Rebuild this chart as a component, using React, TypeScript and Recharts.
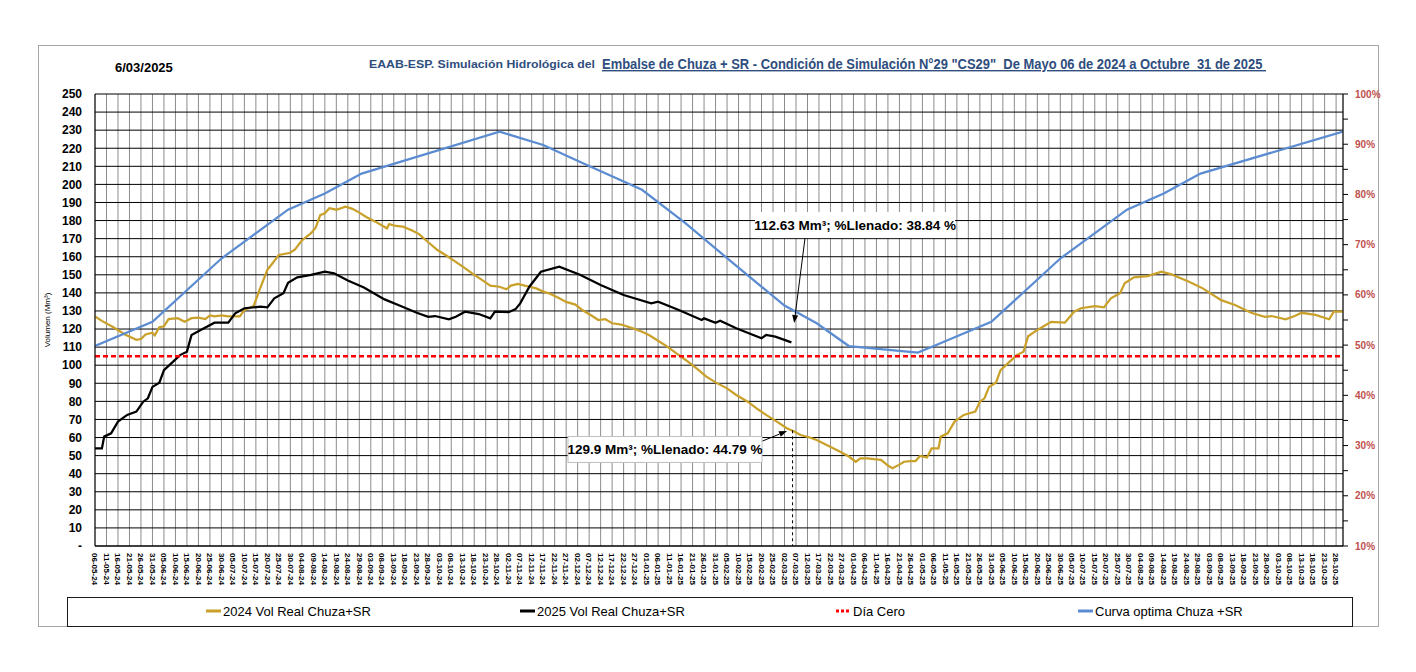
import React from "react";
import {
  CartesianGrid,
  Line,
  LineChart,
  ReferenceDot,
  ReferenceLine,
  XAxis,
  YAxis,
} from "recharts";

// day index counted from 06-05-2024 (axis runs to 31-10-2025)
const START_UTC = Date.UTC(2024, 4, 6);
const LAST_DAY = 543;
const TICK_STEP = 5;

const vol2024Days = [
  0, 3, 8, 13, 18, 20, 22, 25, 26, 28, 30, 32, 36, 39, 42, 45, 48, 50, 52, 55,
  58, 61, 63, 65, 69, 72, 75, 77, 80, 85, 87, 90, 94, 96, 98, 100, 102, 105, 109,
  112, 115, 118, 122, 127, 128, 131, 134, 138, 141, 145, 149, 153, 156, 160, 165,
  168, 172, 176, 179, 181, 184, 187, 189, 192, 195, 198, 202, 205, 209, 212, 216,
  219, 222, 225, 229, 234, 238, 241, 245, 249, 253, 257, 262, 266, 270, 275, 279,
  284, 288, 292, 297, 301, 304, 307, 311, 314, 319, 324, 328, 331, 333, 336, 339,
  342, 345, 347, 350, 352, 355, 357, 359, 362, 364, 367, 368, 371, 374, 378, 383,
  385, 387, 389, 392, 394, 398, 401, 404, 406, 410, 416, 422, 426, 429, 435, 439,
  442, 446, 448, 452, 458, 464, 468, 476, 482, 490, 496, 503, 509, 512, 518, 522,
  525, 531, 537, 539, 543,
];
const vol2024 = [
  127, 124.5, 121, 117, 114, 114.5, 117, 118, 116.5, 121, 121.5, 125.5, 126, 124,
  126, 126.3, 125.5, 127.5, 127, 127.5, 127, 127, 127, 130.5, 132.7, 143, 152.7,
  156, 161, 162.2, 164, 169, 173, 176, 183, 184, 186.8, 186, 187.7, 186.5, 184.4,
  182, 179.4, 175.7, 178, 177, 176.6, 174.5, 172.5, 168, 163.7, 160.5, 158, 154.5,
  150, 147.5, 144, 143.4, 142, 144, 145, 144, 143.4, 142.5, 140.7, 139.5, 137, 135,
  133.5, 130.5, 127.5, 125, 125.5, 123.2, 122.5, 120.4, 118.5, 116.7, 113.5, 110.3,
  106.5, 102.9, 98, 93.7, 90.5, 87.2, 83.5, 79.8, 76, 72.5, 68.5, 65.1, 63.5, 61.4,
  60, 58.6, 55.5, 52.2, 49.5, 46.6, 48.5, 48.5, 48, 47.6, 44.5, 43, 45, 46.6, 47,
  47, 49.8, 49, 54, 54, 60.5, 62.3, 68.8, 72.5, 74.3, 79.8, 81.7, 88, 90.3, 97.3,
  102, 105.6, 107.5, 116, 119.5, 124, 123.5, 129.6, 131.5, 132.7, 132, 137, 139.8,
  145.3, 148.6, 149.3, 151.7, 150.4, 146.2, 142.5, 136, 133.3, 129, 126.8, 127.2,
  125.4, 127.2, 129, 127.8, 125.4, 129.6, 129.6,
];

const vol2025Days = [
  0, 3, 4, 7, 10, 14, 18, 21, 23, 25, 28, 30, 34, 37, 40, 42, 46, 52, 58, 61, 65,
  72, 75, 78, 82, 84, 88, 94, 100, 104, 110, 117, 126, 133, 140, 145, 148, 154,
  157, 161, 167, 172, 174, 180, 183, 185, 189, 194, 202, 211, 220, 230, 242, 245,
  254, 264, 265, 270, 272, 279, 290, 292, 296, 303,
];
const vol2025 = [
  54, 54, 60.5, 62.3, 68.8, 72.5, 74.3, 79.8, 81.7, 88, 90.3, 97.3, 102, 105.6,
  107.5, 116.7, 119.5, 123.5, 123.5, 128.7, 131.5, 132.4, 132, 137, 139.8, 145.6,
  148.6, 150, 151.7, 150.8, 146.8, 143, 136.4, 132.7, 129, 126.8, 127.2, 125.4,
  126.8, 129.6, 128.3, 125.9, 129.6, 129.3, 131, 134.2, 143.4, 151.7, 154.5, 150,
  144.4, 138.8, 134.2, 135.1, 130.5, 125, 125.9, 123.5, 124.6, 120.4, 114.9, 116.7,
  115.8, 112.6,
];

const curvaDays = [
  0, 25, 55, 84, 100, 116, 176, 195, 214, 238, 257, 278, 300, 314, 328, 358, 365,
  390, 420, 449, 465, 481, 543,
];
const curvaVals = [
  110.6, 124, 159, 186, 195, 206, 229.2, 221.8, 210.7, 197, 178.5, 156, 133, 123.2,
  110.6, 107, 110.6, 124, 159, 186, 195, 206, 229.2,
];

const diaCeroDays = [0, LAST_DAY];
const diaCeroVals = [105, 105];

const volTicks = Array.from({ length: 26 }, (_, i) => i * 10);
const pctTicks = Array.from({ length: 19 }, (_, i) => 10 + i * 5);
const dayTicks = Array.from(
  { length: Math.floor(LAST_DAY / TICK_STEP) + 1 },
  (_, i) => i * TICK_STEP
);

const FONT = "Arial, 'Liberation Sans', sans-serif";

const toPoints = (days: number[], vals: number[]) =>
  days.map((d, i) => ({ d, v: vals[i] }));

const series = [
  { name: "2024 Vol Real Chuza+SR", color: "#C9A12A", dash: undefined, data: toPoints(vol2024Days, vol2024), width: 2.25 },
  { name: "2025 Vol Real Chuza+SR", color: "#000000", dash: undefined, data: toPoints(vol2025Days, vol2025), width: 2.25 },
  { name: "Día Cero", color: "#FF0000", dash: "5 3", data: toPoints(diaCeroDays, diaCeroVals), width: 2.5 },
  { name: "Curva optima Chuza +SR", color: "#5B8CD2", dash: undefined, data: toPoints(curvaDays, curvaVals), width: 2.25 },
];
const legendX = [206, 520, 836, 1078];

function fmtDay(idx: number) {
  const dt = new Date(START_UTC + idx * 86400000);
  const dd = String(dt.getUTCDate()).padStart(2, "0");
  const mm = String(dt.getUTCMonth() + 1).padStart(2, "0");
  const yy = String(dt.getUTCFullYear()).slice(2);
  return `${dd}-${mm}-${yy}`;
}

const XTick = (props: any) => {
  const { x, y, payload } = props;
  return (
    <text
      x={x}
      y={y}
      dy="0.35em"
      transform={`rotate(90 ${x} ${y})`}
      fontSize={8}
      fontWeight="bold"
      fontFamily={FONT}
      fill="#000"
      textAnchor="start"
    >
      {fmtDay(payload.value)}
    </text>
  );
};

const PctTick = (props: any) => {
  const { x, y, payload } = props;
  const major = payload.value % 10 === 0;
  return (
    <g>
      <line x1={x} y1={y} x2={x + 5} y2={y} stroke="#000" strokeWidth={1} />
      {major && (
        <text
          x={x + 12}
          y={y}
          dy="0.35em"
          fontSize={10}
          fontWeight="bold"
          fontFamily={FONT}
          fill="#C0504D"
        >
          {payload.value}%
        </text>
      )}
    </g>
  );
};

const Arrow = (p: any) => {
  const { x1, y1, x2, y2 } = p;
  const a = Math.atan2(y2 - y1, x2 - x1);
  const L = 8;
  const W = 3;
  const bx = x2 - L * Math.cos(a);
  const by = y2 - L * Math.sin(a);
  const pts = `${x2},${y2} ${bx - W * Math.sin(a)},${by + W * Math.cos(a)} ${bx + W * Math.sin(a)},${by - W * Math.cos(a)}`;
  return (
    <g>
      <line x1={x1} y1={y1} x2={bx} y2={by} stroke="#000" strokeWidth={1} />
      <polygon points={pts} fill="#000" />
    </g>
  );
};

const noteBox = (text: string, w: number, border: string) => (p: any) => (
  <g>
    <rect
      x={p.cx - w / 2}
      y={p.cy - 13}
      width={w}
      height={26}
      fill="#fff"
      stroke={border}
      strokeWidth={1}
    />
    <text
      x={p.cx}
      y={p.cy}
      dy="0.36em"
      textAnchor="middle"
      fontSize={13.5}
      fontWeight="bold"
      fontFamily={FONT}
      fill="#000"
    >
      {text}
    </text>
  </g>
);

export default function App() {
  return (
    <div style={{ position: "absolute", left: 0, top: 0, width: 1416, height: 672, background: "#fff" }}>
      <svg width={1416} height={672} style={{ position: "absolute", left: 0, top: 0 }}>
        <rect x={38.5} y={45.5} width={1340} height={581} fill="#fff" stroke="#A6A6A6" />
        <text x={115} y={72} fontSize={13} fontWeight="bold" fontFamily={FONT} fill="#000">
          6/03/2025
        </text>
        <text x={369} y={68} fontSize={11.5} fontWeight="bold" fontFamily={FONT} fill="#2F4E7E" textLength={226} lengthAdjust="spacingAndGlyphs">
          EAAB-ESP. Simulación Hidrológica del
        </text>
        <text
          x={602}
          y={69}
          fontSize={14}
          fontWeight="bold"
          fontFamily={FONT}
          fill="#2F4E7E"
          textDecoration="underline"
          style={{ whiteSpace: "pre" }}
          textLength={664}
          lengthAdjust="spacingAndGlyphs"
        >
          {'Embalse de Chuza + SR - Condición de Simulación N°29 "CS29"  De Mayo 06 de 2024 a Octubre  31 de 2025 '}
        </text>
        <text
          x={50}
          y={320}
          transform="rotate(-90 50 320)"
          textAnchor="middle"
          fontSize={8}
          fontFamily={FONT}
          fill="#000"
        >
          Volumen (Mm³)
        </text>
        <rect x={67.5} y={597.5} width={1285} height={29} fill="#fff" stroke="#1a1a1a" />
        {series.map((s, i) => (
          <g key={s.name}>
            <line
              x1={legendX[i]}
              x2={legendX[i] + 15}
              y1={611}
              y2={611}
              stroke={s.color}
              strokeWidth={3}
              strokeDasharray={s.dash ? "3 2" : undefined}
            />
            <text x={legendX[i] + 17} y={611} dy="0.35em" fontSize={13} fontFamily={FONT} fill="#000">
              {s.name}
            </text>
          </g>
        ))}
      </svg>
      <div style={{ position: "absolute", left: 0, top: 0 }}>
        <LineChart
          width={1416}
          height={672}
          margin={{ top: 94, right: 33, left: 60, bottom: 66 }}
        >
          <CartesianGrid yAxisId="vol" horizontal={false} stroke="#8C8C8C" />
          <CartesianGrid yAxisId="vol" vertical={false} stroke="#000" />
          <XAxis
            dataKey="d"
            type="number"
            domain={[0, LAST_DAY]}
            allowDataOverflow
            ticks={dayTicks}
            interval={0}
            tick={<XTick />}
            tickLine={false}
            tickSize={0}
            tickMargin={7}
            height={60}
            axisLine={{ stroke: "#000" }}
          />
          <YAxis
            yAxisId="vol"
            domain={[0, 250]}
            allowDataOverflow
            ticks={volTicks}
            interval={0}
            width={35}
            tickLine={false}
            tickMargin={7}
            tickFormatter={(v: number) => (v === 0 ? "-" : String(v))}
            tick={{ fontSize: 12, fontWeight: "bold", fill: "#000", fontFamily: FONT }}
            axisLine={{ stroke: "#000" }}
          />
          <YAxis
            yAxisId="pct"
            orientation="right"
            type="number"
            domain={[10, 100]}
            allowDataOverflow
            ticks={pctTicks}
            interval={0}
            width={40}
            tickLine={false}
            tickSize={0}
            tickMargin={0}
            tick={<PctTick />}
            axisLine={{ stroke: "#000" }}
          />
          {series.map((s) => (
            <Line
              key={s.name}
              yAxisId="vol"
              data={s.data}
              dataKey="v"
              name={s.name}
              type="linear"
              stroke={s.color}
              strokeWidth={s.width}
              strokeDasharray={s.dash}
              dot={false}
              activeDot={false}
              isAnimationActive={false}
            />
          ))}
          <ReferenceLine
            yAxisId="vol"
            segment={[{ x: 303.5, y: 64 }, { x: 303.5, y: 0 }]}
            stroke="#000"
            strokeDasharray="3 3"
            strokeWidth={1}
          />
          <ReferenceLine
            yAxisId="vol"
            segment={[{ x: 309, y: 171 }, { x: 304.2, y: 123.3 }]}
            shape={Arrow}
          />
          <ReferenceLine
            yAxisId="vol"
            segment={[{ x: 290.3, y: 58 }, { x: 301.1, y: 63.6 }]}
            shape={Arrow}
          />
          <ReferenceDot
            yAxisId="vol"
            x={330.7}
            y={177.5}
            r={1}
            shape={noteBox("112.63 Mm³; %Llenado: 38.84 %", 200, "none")}
          />
          <ReferenceDot
            yAxisId="vol"
            x={248}
            y={53.4}
            r={1}
            shape={noteBox("129.9 Mm³; %Llenado: 44.79 %", 194, "#BFBFBF")}
          />
        </LineChart>
      </div>
    </div>
  );
}
